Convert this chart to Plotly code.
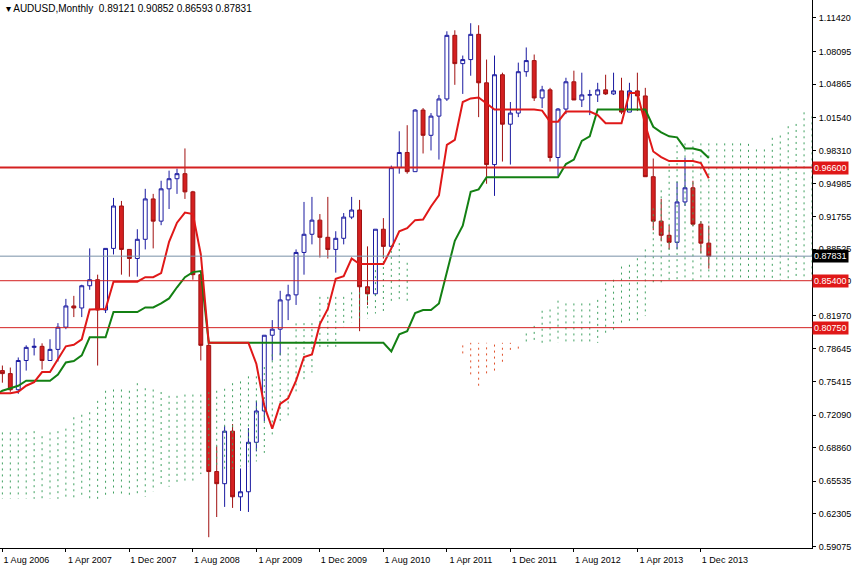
import numpy as np
import plotly.graph_objects as go

# hidden history (Jul 2000 - Jul 2006), monthly highs / lows, only feeds the indicators
hist_high = [.600, .590, .575, .550, .530, .560,
             .570, .550, .520, .515, .525, .520, .520, .535, .525, .510, .525, .520,
             .520, .520, .535, .545, .565, .575, .570, .550, .550, .560, .570, .570,
             .595, .610, .615, .630, .660, .680, .680, .660, .690, .710, .730, .755,
             .780, .800, .775, .765, .720, .710, .730, .720, .730, .750, .780, .785,
             .780, .790, .800, .785, .780, .770, .770, .770, .770, .765, .750, .745,
             .760, .755, .745, .760, .775, .760, .770]
hist_low = [.575, .570, .540, .510, .510, .520,
            .540, .520, .485, .476, .500, .500, .500, .510, .480, .490, .500, .500,
            .505, .505, .510, .525, .540, .555, .535, .535, .540, .540, .550, .555,
            .560, .585, .590, .595, .620, .650, .640, .640, .640, .680, .690, .720,
            .740, .760, .740, .700, .680, .680, .690, .695, .700, .720, .740, .750,
            .755, .760, .770, .760, .755, .750, .745, .745, .750, .740, .730, .725,
            .735, .735, .710, .710, .745, .730, .740]

# visible candles, Aug 2006 - Jan 2014
opens = [.765, .762, .746, .775, .788, .789, .775, .786, .808, .829, .827, .849, .855, .825, .886, .928,
         .885, .876, .895, .935, .913, .945, .955, .960, .942, .860, .790, .665, .653, .705, .640, .645,
         .694, .725, .800, .806, .835, .840, .882, .900, .914, .897, .885, .896, .917, .924, .848, .841,
         .905, .888, .966, .981, .962, 1.023, .998, 1.017, 1.034, 1.097, 1.069, 1.073, 1.098, 1.050, .969, 1.058,
         1.009, 1.020, 1.061, 1.072, 1.035, 1.043, .976, 1.024, 1.051, 1.033, 1.038, 1.038, 1.043, 1.039, 1.042, 1.021,
         1.042, 1.037, .957, .913, .899, .892, .932, .946, .910, .89121]
highs = [.770, .768, .778, .790, .797, .792, .796, .812, .836, .839, .850, .886, .860, .886, .936, .933,
         .885, .905, .945, .940, .953, .963, .965, .985, .943, .860, .795, .690, .710, .712, .668, .708,
         .735, .800, .815, .844, .850, .885, .932, .937, .920, .937, .903, .921, .937, .934, .888, .905,
         .916, .968, 1.002, 1.008, 1.024, 1.025, 1.020, 1.038, 1.101, 1.102, 1.077, 1.109, 1.107, 1.073, 1.077, 1.060,
         1.031, 1.070, 1.085, 1.078, 1.047, 1.045, 1.025, 1.055, 1.062, 1.060, 1.043, 1.050, 1.058, 1.060, 1.055, 1.050,
         1.060, 1.045, .975, .935, .909, .952, .976, .953, .913, .90852]
lows = [.753, .744, .742, .765, .780, .766, .775, .774, .806, .818, .818, .845, .770, .822, .880, .860,
        .858, .858, .885, .886, .909, .925, .940, .935, .855, .775, .600, .620, .630, .629, .626, .625,
        .685, .715, .775, .780, .815, .830, .860, .890, .877, .876, .862, .890, .915, .804, .830, .839,
        .876, .885, .960, .960, .962, .980, .983, .974, 1.032, 1.048, 1.039, 1.057, 1.016, .950, .938, .972,
        .969, 1.016, 1.056, 1.032, 1.025, .972, .958, 1.019, 1.034, 1.026, 1.018, 1.031, 1.038, 1.038, 1.019, 1.021,
        1.022, .957, .904, .893, .885, .885, .928, .908, .881, .86593]
closes = opens[1:] + [.87831]

levels = [0.96600, 0.85400, 0.80750]
last_price = 0.87831
y_ticks = [1.11420, 1.08095, 1.04865, 1.01540, 0.98310, 0.94985, 0.91755, 0.88525, 0.85400,
           0.81970, 0.78645, 0.75415, 0.72090, 0.68860, 0.65535, 0.62305, 0.59075]
x_labels = ['1 Aug 2006', '1 Apr 2007', '1 Dec 2007', '1 Aug 2008', '1 Apr 2009', '1 Dec 2009',
            '1 Aug 2010', '1 Apr 2011', '1 Dec 2011', '1 Aug 2012', '1 Apr 2013', '1 Dec 2013']

# ichimoku on full series
H = np.array(hist_high + highs)
L = np.array(hist_low + lows)
n_hist = len(hist_high)


def mid(p, i):
    return (H[max(0, i - p + 1):i + 1].max() + L[max(0, i - p + 1):i + 1].min()) / 2


N = len(H)
tenkan = np.array([mid(9, i) for i in range(N)])
kijun = np.array([mid(26, i) for i in range(N)])
span_a = (tenkan + kijun) / 2
span_b = np.array([mid(52, i) for i in range(N)])
idx = np.arange(N) - n_hist  # 0 = Aug 2006

fig = go.Figure()

# cloud, dotted verticals shifted 26 ahead
gx, gy, rx, ry = [], [], [], []
for i in range(N):
    xi = idx[i] + 26
    if xi < -1 or xi > 103:
        continue
    a, b = span_a[i], span_b[i]
    if a >= b:
        gx += [xi, xi, None]
        gy += [a, b, None]
    else:
        rx += [xi, xi, None]
        ry += [a, b, None]
fig.add_trace(go.Scatter(x=gx, y=gy, mode='lines', line=dict(color='#3fa060', width=1, dash='2px,4px'),
                         hoverinfo='skip'))
fig.add_trace(go.Scatter(x=rx, y=ry, mode='lines', line=dict(color='#e0502a', width=1, dash='2px,4px'),
                         hoverinfo='skip'))

for lv in levels:
    fig.add_hline(y=lv, line=dict(color='#d42020', width=2 if lv == 0.966 else 1))
fig.add_hline(y=last_price, line=dict(color='#7890a8', width=1))

vis = idx >= -1
fig.add_trace(go.Scatter(x=idx[vis], y=kijun[vis], mode='lines', line=dict(color='#138013', width=2)))
fig.add_trace(go.Scatter(x=idx[vis], y=tenkan[vis], mode='lines', line=dict(color='#e01818', width=2)))

fig.add_trace(go.Candlestick(
    x=list(range(len(opens))), open=opens, high=highs, low=lows, close=closes,
    increasing=dict(line=dict(color='#1a1aa0', width=1), fillcolor='white'),
    decreasing=dict(line=dict(color='#a01010', width=1), fillcolor='#d42020'),
    whiskerwidth=0))

fig.add_annotation(xref='paper', yref='paper', x=0.005, y=0.999, xanchor='left', yanchor='top',
                   text='\u25be AUDUSD,Monthly  0.89121 0.90852 0.86593 0.87831',
                   showarrow=False, font=dict(size=10, color='black'))
for lv, bg in [(0.966, '#e01818'), (0.854, '#e01818'), (0.8075, '#e01818'), (last_price, 'black')]:
    fig.add_annotation(xref='paper', x=1.0, y=lv, xanchor='left', yanchor='middle',
                       text='%.5f' % lv, showarrow=False, bgcolor=bg, borderpad=1,
                       font=dict(family='Liberation Sans', size=9, color='white'))

fig.update_layout(
    width=856, height=567, margin=dict(l=0, r=44, t=0, b=19),
    plot_bgcolor='white', paper_bgcolor='white', showlegend=False,
    font=dict(family='Liberation Sans', size=9, color='black'),
    xaxis=dict(range=[-0.3, 102], tickvals=[8 * k for k in range(len(x_labels))], ticktext=x_labels,
               showgrid=False, rangeslider=dict(visible=False), ticks='outside', ticklen=3,
               tickcolor='black', ticklabelshift=24, ticklabelstandoff=0, showline=True, linecolor='black',
               mirror=True, zeroline=False),
    yaxis=dict(range=[0.5893, 1.132], side='right', tickvals=y_ticks, ticktext=['%.5f' % v for v in y_ticks],
               showgrid=False, ticks='outside', ticklen=3, tickcolor='black', showline=True,
               linecolor='black', mirror=True, zeroline=False, ticklabelstandoff=1),
)

fig.write_html('out.html', config={'displayModeBar': False},
               post_script="document.body.style.margin='0';")
